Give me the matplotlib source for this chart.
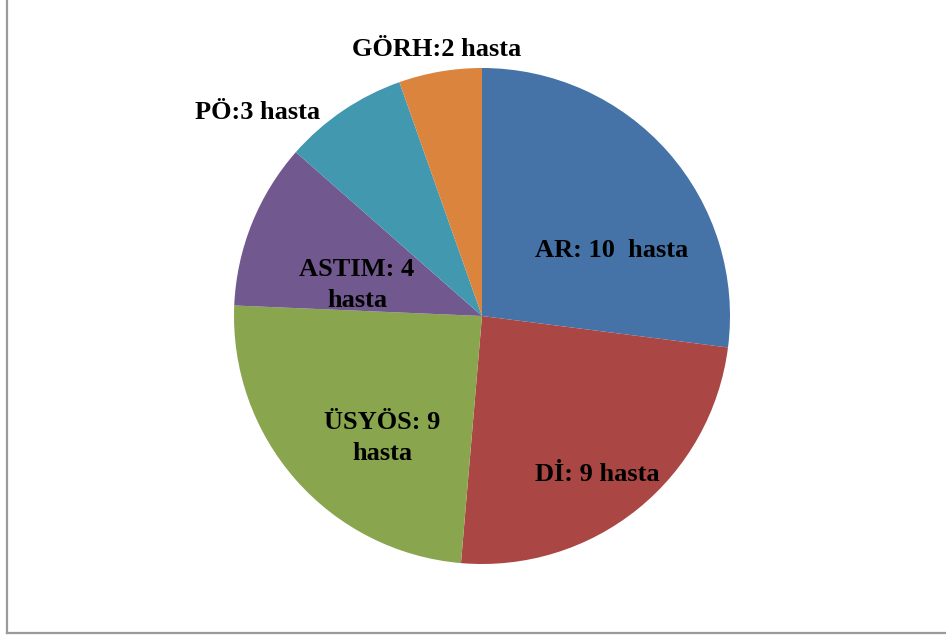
import matplotlib
matplotlib.use("Agg")
import matplotlib.pyplot as plt
from matplotlib.lines import Line2D

# Hasta sayıları (tanıya göre)
tanilar = ["AR", "Dİ", "ÜSYÖS", "ASTIM", "PÖ", "GÖRH"]
hasta_sayisi = [10, 9, 9, 4, 3, 2]
etiketler = ["AR: 10  hasta", "Dİ: 9 hasta", "ÜSYÖS: 9\nhasta",
             "ASTIM: 4\nhasta", "PÖ:3 hasta", "GÖRH:2 hasta"]
renkler = ["#4572A7", "#AA4643", "#89A54E", "#71588F", "#4198AF", "#DB843D"]

# Etiketlerin yeri (pasta yarıçapı birimiyle)
etiket_yeri = [(0.524, 0.266), (0.464, -0.638), (-0.403, -0.491),
               (-0.504, 0.125), (-0.907, 0.819), (-0.181, 1.073)]
etiket_boyu = 19

fig = plt.figure(figsize=(9.46, 6.35), dpi=100)
ax = fig.add_axes([0, 0, 1, 1])

ax.pie(hasta_sayisi, colors=renkler, startangle=90, counterclock=False,
       radius=1.0, wedgeprops=dict(linewidth=0))

for txt, (x, y) in zip(etiketler, etiket_yeri):
    ax.text(x, y, txt, ha="center", va="center", fontsize=etiket_boyu,
            fontweight="bold", family="Liberation Serif", color="black",
            linespacing=1.42)

# 1 birim = 248 piksel, merkez (482, 316)
ax.set_xlim(-482 / 248, (946 - 482) / 248)
ax.set_ylim(-(635 - 316) / 248, 316 / 248)
ax.set_aspect("auto")
ax.axis("off")

# Çerçeve (sol ve alt kenar)
fig.add_artist(Line2D([6.5 / 946, 6.5 / 946], [(635 - 632.5) / 635, 1.0],
                      color="#9a9a9a", linewidth=1.6))
fig.add_artist(Line2D([6.5 / 946, 1.0], [(635 - 632.5) / 635, (635 - 632.5) / 635],
                      color="#9a9a9a", linewidth=1.6))

fig.savefig("out.png", dpi=100, facecolor="white")
